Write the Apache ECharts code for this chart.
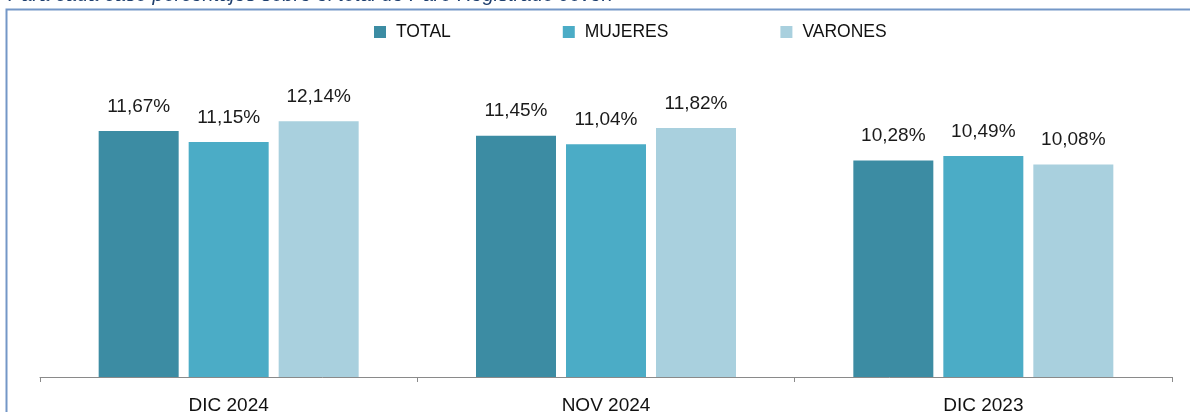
<!DOCTYPE html>
<html>
<head>
<meta charset="utf-8">
<script src="https://cdn.jsdelivr.net/npm/echarts@6/dist/echarts.min.js"></script>
<style>
html,body{margin:0;padding:0;background:#fff;}
#chart{width:1190px;height:412px;}
</style>
</head>
<body>
<div id="chart"></div>
<script>
const categories = ['DIC 2024', 'NOV 2024', 'DIC 2023'];
const seriesNames = ['TOTAL', 'MUJERES', 'VARONES'];
const total = [11.67, 11.45, 10.28];
const mujeres = [11.15, 11.04, 10.49];
const varones = [12.14, 11.82, 10.08];
const subtitle = 'Para cada caso porcentajes sobre el total de Paro Registrado Joven';

const colors = ['#3c8ca3', '#4bacc6', '#a9d0de'];
const FONT = '"Liberation Sans", Arial, sans-serif';

const chart = echarts.init(document.getElementById('chart'));
const fmt = p => p.value.toFixed(2).replace('.', ',') + '%';
const mk = (name, data, i) => ({
  name, type: 'bar', data,
  barWidth: 80, barGap: '12.5%',
  itemStyle: { color: colors[i] },
  label: { show: true, position: 'top', distance: 15, formatter: fmt,
           color: '#1a1a1a', fontSize: 19, fontFamily: FONT }
});
chart.setOption({
  animation: false,
  color: colors,
  graphic: [
    { type: 'rect', left: 4, top: 7, shape: { width: 1200, height: 420 },
      style: { fill: 'none', stroke: '#7497c7', lineWidth: 2 } },
    { type: 'text', left: 8, top: -15,
      style: { text: subtitle, fill: '#1f3f6e', font: 'italic 20px ' + FONT } }
  ],
  legend: {
    left: 369, top: 18, itemWidth: 12, itemHeight: 12, itemGap: 112,
    icon: 'rect',
    textStyle: { fontSize: 17.5, color: '#111', fontFamily: FONT, padding: [0,0,0,5] },
    data: seriesNames
  },
  grid: { left: 40, right: 18, top: 82, bottom: 35, outerBoundsMode: 'none', containLabel: false },
  xAxis: {
    type: 'category', data: categories,
    axisLine: { lineStyle: { color: '#8a8a8a', width: 1 } },
    axisTick: { show: true, length: 5, lineStyle: { color: '#8a8a8a' } },
    axisLabel: { color: '#111', fontSize: 19, fontFamily: FONT, margin: 19 }
  },
  yAxis: {
    type: 'value', min: 0, max: 14, show: false, splitLine: { show: false }
  },
  series: [mk(seriesNames[0], total, 0), mk(seriesNames[1], mujeres, 1), mk(seriesNames[2], varones, 2)]
});
</script>
</body>
</html>
